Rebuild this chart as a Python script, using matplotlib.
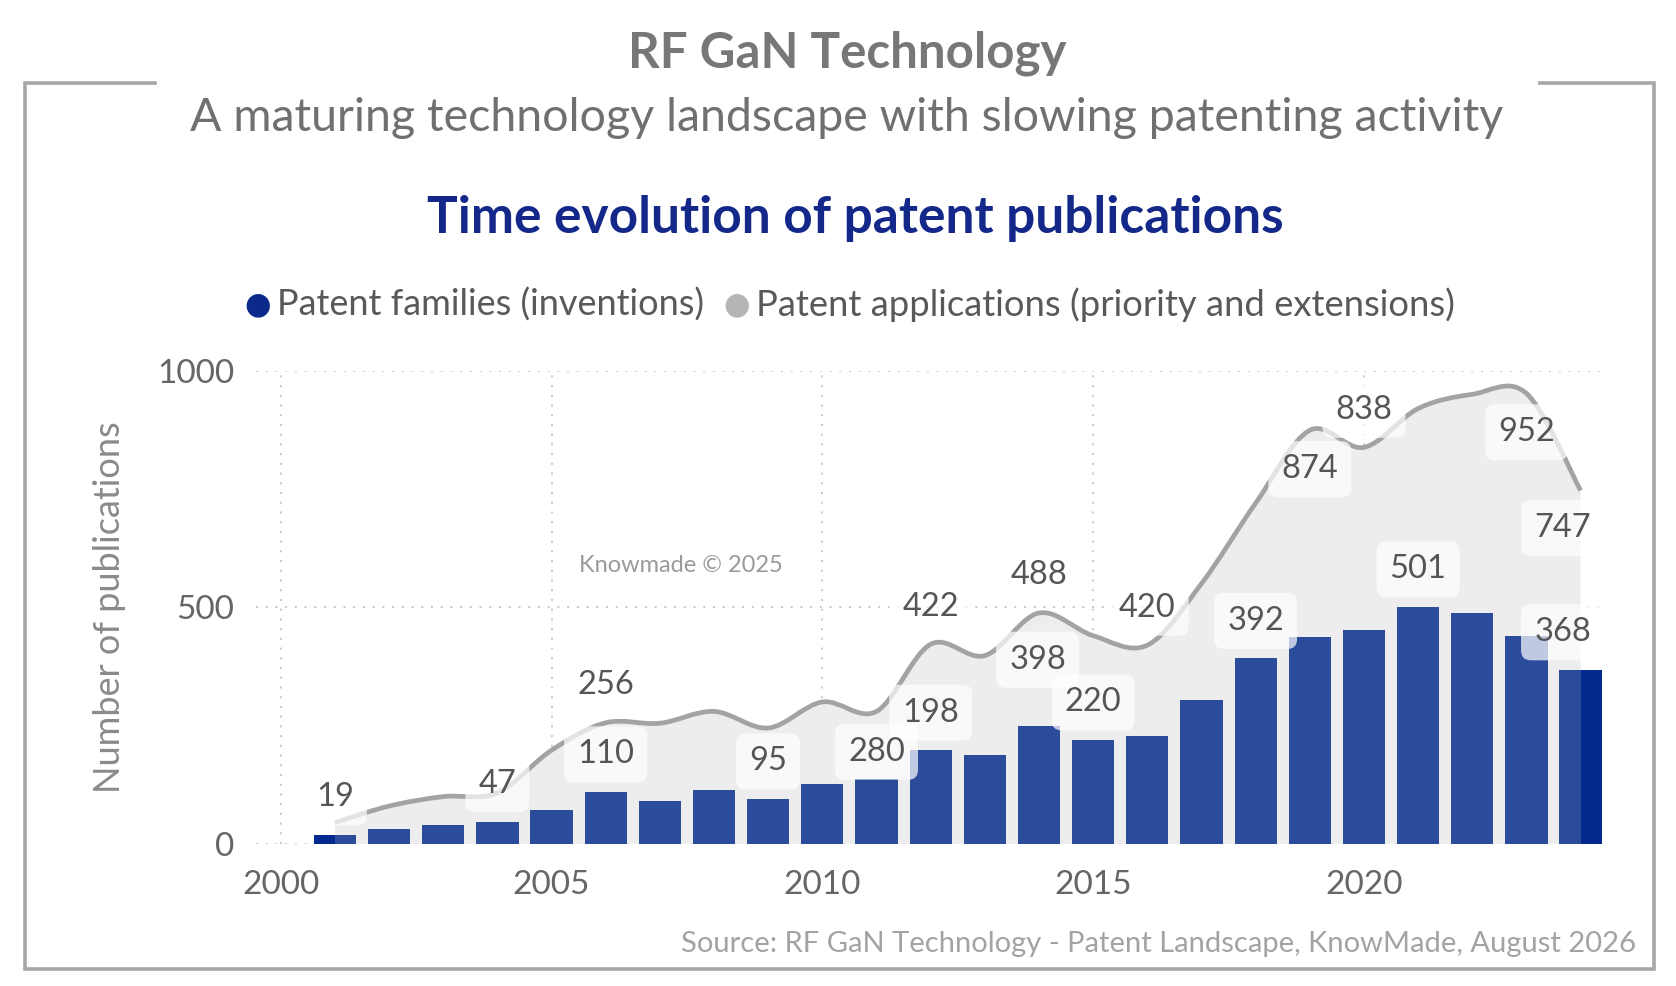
import numpy as np
import matplotlib
matplotlib.use("Agg")
import matplotlib.pyplot as plt
from matplotlib.path import Path
from matplotlib.patches import PathPatch
from matplotlib.lines import Line2D

plt.rcParams['font.family'] = ['Lato', 'DejaVu Sans']

# datos
years = list(range(2001, 2025))
families = [19, 32, 41, 47, 72, 110, 90, 114, 95, 126, 138, 198,
            187, 250, 220, 229, 305, 392, 438, 452, 501, 488, 440, 368]
applications = [45, 80, 100, 108, 198, 256, 255, 280, 245, 300, 280, 422,
                398, 488, 440, 420, 550, 720, 874, 838, 920, 950, 952, 747]

# etiquetas visibles: (año, serie, dx en pt, dy en pt)
label_years_fam = [2001, 2004, 2006, 2009, 2012, 2015, 2018, 2021, 2024]
label_years_app = [2006, 2011, 2012, 2013, 2014, 2016, 2019, 2020, 2023, 2024]
app_label_dy = [27, -29, 27, -3, 27, 27, -28, 27, -28, -27]
app_label_dx = [0, 0, 0, 38, 0, 0, 0, 0, 0, -13]

x_ticks = [2000, 2005, 2010, 2015, 2020]
y_ticks = [0, 500, 1000]

BLUE = '#2b4b9b'
NAVY = '#0b2a8c'
GREY_LINE = '#a3a3a3'
GREY_FILL = '#ededed'
TEXT = '#666666'

fig = plt.figure(figsize=(16.76, 9.86), dpi=100)

# marco gris con hueco para el titulo
W, H = 1569.0, 923.0
fx = lambda p: p / W
fy = lambda p: 1 - p / H
frame_x = [fx(145), fx(23), fx(23), fx(1548), fx(1548), fx(1442)]
frame_y = [fy(78), fy(78), fy(907), fy(907), fy(78), fy(78)]
fig.add_artist(Line2D(frame_x, frame_y, color='#a6a6a6', lw=2.6,
                      transform=fig.transFigure, solid_joinstyle='miter'))

fig.text(fx(793), fy(50), 'RF GaN Technology', ha='center', va='center',
         fontsize=35.5, fontweight='bold', color='#777777')
fig.text(fx(793), fy(110), 'A maturing technology landscape with slowing patenting activity',
         ha='center', va='center', fontsize=33.5, color='#707070')
fig.text(fx(801), fy(205), 'Time evolution of patent publications', ha='center', va='center',
         fontsize=37, fontweight='bold', color='#14288a')

# leyenda
fig.text(fx(241), fy(285), '\u25CF', ha='center', va='center', fontsize=22, color=NAVY,
         family=['DejaVu Sans'])
fig.text(fx(259), fy(285), 'Patent families (inventions)', ha='left', va='center',
         fontsize=26, color='#595959')
fig.text(fx(690), fy(285), '\u25CF', ha='center', va='center', fontsize=22, color='#b5b5b5',
         family=['DejaVu Sans'])
fig.text(fx(708), fy(285), 'Patent applications (priority and extensions)', ha='left',
         va='center', fontsize=26.2, color='#595959')

ax = fig.add_axes([fx(240), fy(790), fx(1503) - fx(240), fy(347) - fy(790)])
ax.set_xlim(1999.55, 2024.46)
ax.set_ylim(0, 1000)

# area suavizada (Catmull-Rom -> bezier)
xs = np.array(years, dtype=float)
ys = np.array(applications, dtype=float)
pts = np.column_stack([xs, ys])
verts = [tuple(pts[0])]
codes = [Path.MOVETO]
for i in range(len(pts) - 1):
    p0 = pts[i - 1] if i > 0 else pts[i]
    p1 = pts[i]
    p2 = pts[i + 1]
    p3 = pts[i + 2] if i + 2 < len(pts) else pts[i + 1]
    c1 = p1 + (p2 - p0) / 6.0
    c2 = p2 - (p3 - p1) / 6.0
    verts += [tuple(c1), tuple(c2), tuple(p2)]
    codes += [Path.CURVE4] * 3
line_path = Path(verts, codes)
fill_verts = verts + [(xs[-1], 0), (xs[0], 0), verts[0]]
fill_codes = codes + [Path.LINETO, Path.LINETO, Path.CLOSEPOLY]
ax.add_patch(PathPatch(Path(fill_verts, fill_codes), facecolor=GREY_FILL, edgecolor='none', zorder=1))
ax.add_patch(PathPatch(line_path, facecolor='none', edgecolor=GREY_LINE, lw=3.4,
                       capstyle='butt', zorder=2))

ax.bar(years, families, width=0.78, color=BLUE, zorder=3)
# mitad mas oscura (resaltado)
ax.bar(years[-1], families[-1], width=0.39, align='edge', color='#03298f', zorder=3)
ax.bar(years[0] - 0.39, families[0], width=0.39, align='edge', color='#03298f', zorder=3)

box = dict(boxstyle='round,pad=0.4,rounding_size=0.3', facecolor='white', edgecolor='none', alpha=0.7)
for yr in label_years_fam:
    v = families[years.index(yr)]
    dx = -13 if yr == years[-1] else 0
    ax.annotate(str(v), (yr, v), xytext=(dx, 27), textcoords='offset points',
                ha='center', va='center', fontsize=23.5, color='#555555', bbox=box, zorder=5)
for yr, dy, dx in zip(label_years_app, app_label_dy, app_label_dx):
    v = applications[years.index(yr)]
    ax.annotate(str(v), (yr, v), xytext=(dx, dy), textcoords='offset points',
                ha='center', va='center', fontsize=23.5, color='#555555', bbox=box, zorder=5)

ax.set_xticks(x_ticks)
ax.set_yticks(y_ticks)
ax.tick_params(length=0, labelsize=24, labelcolor=TEXT)
ax.tick_params(axis='x', pad=19)
ax.tick_params(axis='y', pad=16)
for s in ax.spines.values():
    s.set_visible(False)
ax.grid(True, color='#c8c8c8', linestyle=(0, (1, 4)), lw=1.4, zorder=0)
ax.set_axisbelow(True)
ax.set_ylabel('Number of publications', fontsize=26, color='#8a8a8a')
ax.yaxis.set_label_coords((118 - 240) / (1503 - 240), 0.5)

fig.text(fx(637), fy(529), 'Knowmade \u00a9 2025', ha='center', va='center',
         fontsize=17, color='#9a9a9a')
fig.text(fx(1532), fy(884), 'Source: RF GaN Technology - Patent Landscape, KnowMade, August 2026',
         ha='right', va='center', fontsize=21, color='#a3a3a3')

fig.savefig('out.png', dpi=100)
